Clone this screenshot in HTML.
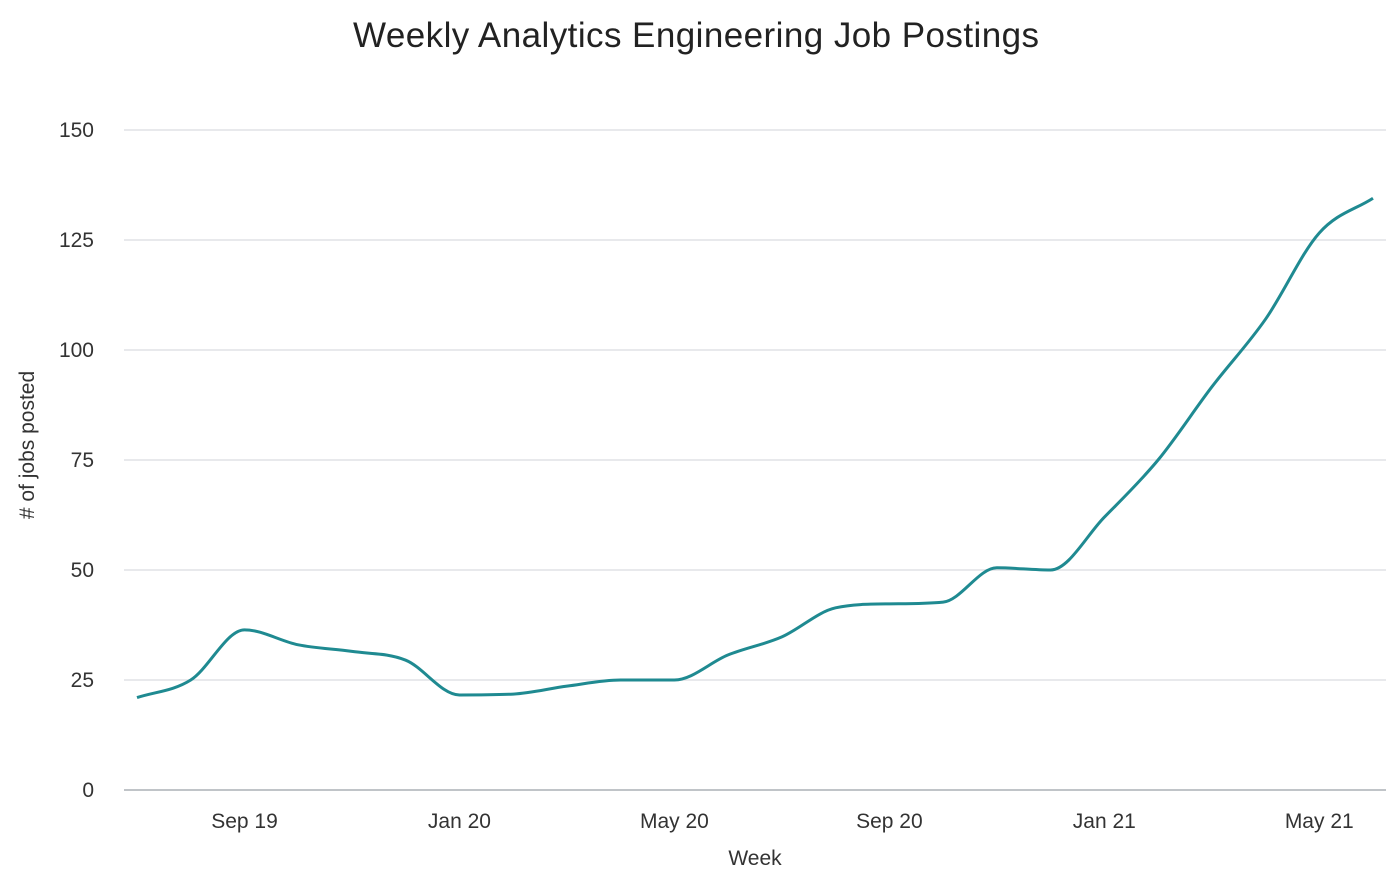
<!DOCTYPE html>
<html><head><meta charset="utf-8"><style>
body{margin:0;background:#fff;font-family:"Liberation Sans",sans-serif;}
svg text{font-family:"Liberation Sans",sans-serif;}
</style></head><body>
<svg id="chart" width="1398" height="890">
<text x="696" y="47" text-anchor="middle" font-size="35" fill="#222" textLength="686">Weekly Analytics Engineering Job Postings</text>
<g id="grid"></g><g id="xt"></g>
<text x="755" y="865" text-anchor="middle" font-size="21" fill="#333">Week</text>
<text transform="translate(34,445) rotate(-90)" text-anchor="middle" font-size="21" fill="#333"># of jobs posted</text>
<path id="line" fill="none" stroke="#1f8a91" stroke-width="3"/>
</svg>
<script>
const months = ["Jul 19","Aug 19","Sep 19","Oct 19","Nov 19","Dec 19","Jan 20","Feb 20","Mar 20","Apr 20","May 20","Jun 20","Jul 20","Aug 20","Sep 20","Oct 20","Nov 20","Dec 20","Jan 21","Feb 21","Mar 21","Apr 21","May 21","Jun 21"];
const values = [21,25,36.4,33,31.5,29.5,21.6,21.8,23.6,25,25,30.7,34.8,41.4,42.3,42.7,50.5,50,62,75,91.6,107,126.6,134.5];
const yTicks = [0,25,50,75,100,125,150];
const xTickLabels = ["Sep 19","Jan 20","May 20","Sep 20","Jan 21","May 21"];
const xTickIdx = [2,6,10,14,18,22];
const NS="http://www.w3.org/2000/svg";
const x = i => 137 + i*(1373-137)/(months.length-1);
const y = v => 790 - v*(660/150);
const grid=document.getElementById('grid');
yTicks.forEach(t=>{
  const l=document.createElementNS(NS,'line');
  l.setAttribute('x1',124);l.setAttribute('x2',1386);l.setAttribute('y1',y(t));l.setAttribute('y2',y(t));
  l.setAttribute('stroke',t===0?'#9aa0a6':'#dadce0');l.setAttribute('stroke-width',1.3);
  
  
  grid.appendChild(l);
  const tx=document.createElementNS(NS,'text');
  tx.setAttribute('x',94);tx.setAttribute('y',y(t)+7);tx.setAttribute('text-anchor','end');
  tx.setAttribute('font-size',21);tx.setAttribute('fill','#333');tx.textContent=t;
  
  
  grid.appendChild(tx);
});
const xt=document.getElementById('xt');
xTickLabels.forEach((lab,k)=>{
  const tx=document.createElementNS(NS,'text');
  tx.setAttribute('x',x(xTickIdx[k]));tx.setAttribute('y',828);tx.setAttribute('text-anchor','middle');
  tx.setAttribute('font-size',21);tx.setAttribute('fill','#333');tx.textContent=lab;
  
  
  xt.appendChild(tx);
});
// monotone cubic (Fritsch-Carlson)
const px=values.map((v,i)=>x(i)), py=values.map(v=>y(v));
const n=px.length, dk=[], m=[];
for(let i=0;i<n-1;i++) dk.push((py[i+1]-py[i])/(px[i+1]-px[i]));
m[0]=dk[0]; m[n-1]=dk[n-2];
for(let i=1;i<n-1;i++) m[i]=(dk[i-1]*dk[i]<=0)?0:(dk[i-1]+dk[i])/2;
for(let i=0;i<n-1;i++){
  if(dk[i]===0){m[i]=0;m[i+1]=0;continue;}
  const a=m[i]/dk[i], b=m[i+1]/dk[i], s=a*a+b*b;
  if(s>9){const t=3/Math.sqrt(s);m[i]=t*a*dk[i];m[i+1]=t*b*dk[i];}
}
let d=`M${px[0]},${py[0]}`;
for(let i=0;i<n-1;i++){
  const h=(px[i+1]-px[i])/3;
  d+=` C${px[i]+h},${py[i]+m[i]*h} ${px[i+1]-h},${py[i+1]-m[i+1]*h} ${px[i+1]},${py[i+1]}`;
}
document.getElementById('line').setAttribute('d',d);
</script>
</body></html>
